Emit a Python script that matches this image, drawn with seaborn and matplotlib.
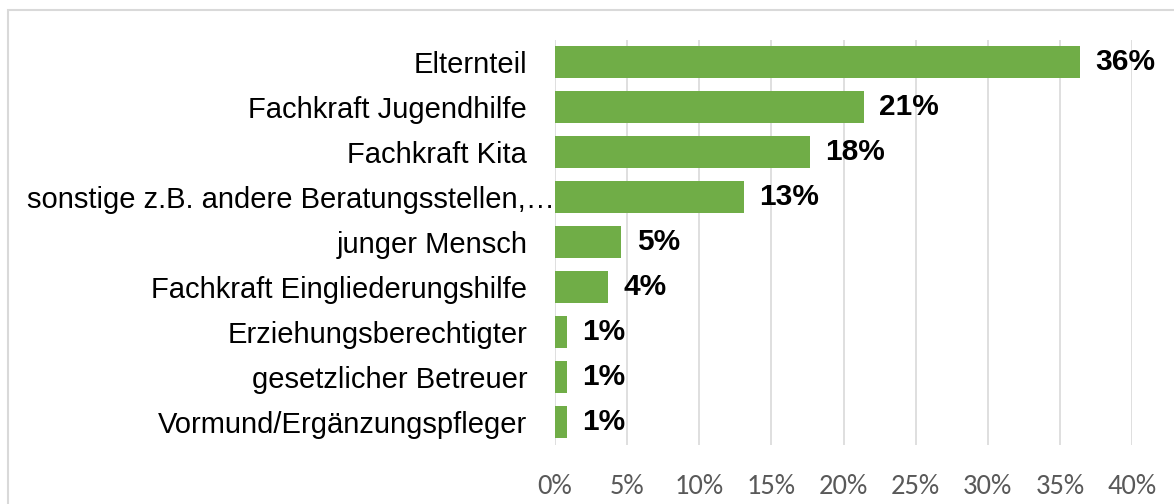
import matplotlib
matplotlib.use("Agg")
import matplotlib.pyplot as plt
import matplotlib.transforms as mtransforms
from matplotlib.patches import Rectangle
import seaborn as sns
import pandas as pd

categories = [
    "Elternteil",
    "Fachkraft Jugendhilfe",
    "Fachkraft Kita",
    "sonstige z.B. andere Beratungsstellen,…",
    "junger Mensch",
    "Fachkraft Eingliederungshilfe",
    "Erziehungsberechtigter",
    "gesetzlicher Betreuer",
    "Vormund/Ergänzungspfleger",
]
values = [36.4, 21.4, 17.7, 13.1, 4.6, 3.7, 0.8, 0.8, 0.8]
value_labels = ["36%", "21%", "18%", "13%", "5%", "4%", "1%", "1%", "1%"]
x_ticks = [0, 5, 10, 15, 20, 25, 30, 35, 40]
x_tick_labels = ["0%", "5%", "10%", "15%", "20%", "25%", "30%", "35%", "40%"]

df = pd.DataFrame({"Kategorie": categories, "Anteil": values})

sns.set_theme(style="white")
plt.rcParams["font.family"] = ["Liberation Sans", "DejaVu Sans"]

fig = plt.figure(figsize=(11.74, 5.04), dpi=100)
ax = fig.add_axes([555 / 1174, 1 - 444.5 / 504, (1132 - 555) / 1174, (444.5 - 39.5) / 504])

sns.barplot(data=df, x="Anteil", y="Kategorie", color="#70AD47", saturation=1,
            width=0.69, ax=ax, edgecolor="none")

ax.set_xlim(0, 40)
ax.set_ylim(8.5, -0.5)
ax.set_xticks(x_ticks)
ax.set_xticklabels(x_tick_labels, fontsize=20.5, color="#595959", family=["Carlito", "DejaVu Sans"])
ax.tick_params(axis="x", length=0, pad=21.5)
ax.tick_params(axis="y", length=0, pad=20, labelsize=21, labelcolor="black")
ax.set_xlabel("")
ax.set_ylabel("")
ax.xaxis.grid(True, color="#D9D9D9", linewidth=1.2)
ax.set_axisbelow(True)
for s in ax.spines.values():
    s.set_visible(False)

# Excel lets the truncated label run up to the bar
lbl = ax.get_yticklabels()[3]
lbl.set_transform(lbl.get_transform() + mtransforms.ScaledTranslation(28 / 100, 0, fig.dpi_scale_trans))

for cont in ax.containers:
    ax.bar_label(cont, labels=value_labels, padding=11, fontsize=21.5, fontweight="bold",
                 color="black")

fig.patches.append(Rectangle((8 / 1174, -0.1), 1.2, 1 - 10 / 504 + 0.1, transform=fig.transFigure,
                             fill=False, edgecolor="#D9D9D9", linewidth=1.5))

fig.savefig("out.png", dpi=100)
